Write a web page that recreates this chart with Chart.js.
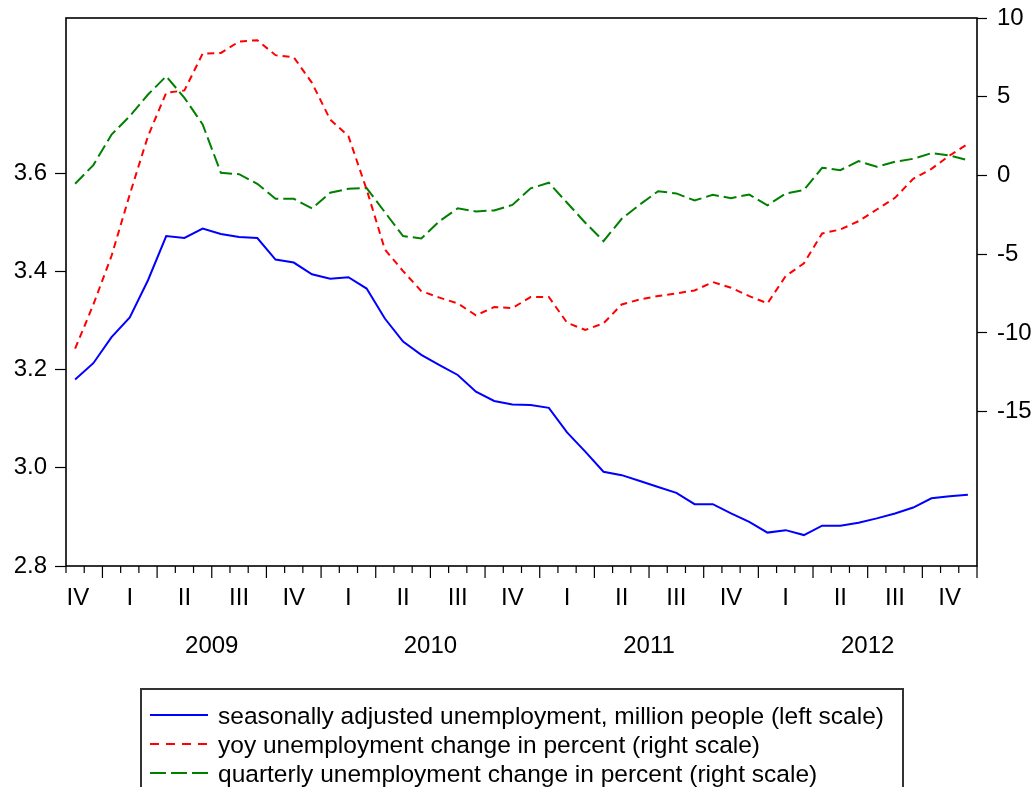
<!DOCTYPE html>
<html>
<head>
<meta charset="utf-8">
<title>Unemployment</title>
<script src="https://cdn.jsdelivr.net/npm/chart.js@4.4.0/dist/chart.umd.min.js"></script>
<style>
  html, body { margin: 0; padding: 0; background: #fff; overflow: hidden; }
  #wrap { position: relative; width: 1036px; height: 787px; }
  #legend {
    position: absolute; left: 140px; top: 688px; width: 764px; height: 140px;
    border: 2px solid #333; box-sizing: border-box;
    font-family: 'Liberation Sans', Arial, sans-serif; font-size: 24.5px; color: #000;
  }
  .row { position: absolute; left: 8px; height: 29px; line-height: 29px; white-space: nowrap; display: flex; align-items: center; }
  .row svg { margin-right: 10px; }
</style>
</head>
<body>
<div id="wrap">
  <canvas id="chart" width="1036" height="787"></canvas>
  <div id="legend"></div>
</div>
<script>
// monthly observations, Nov 2008 - Dec 2012
const months = [
    'Nov 2008', 'Dec 2008',
    'Jan 2009', 'Feb 2009', 'Mar 2009', 'Apr 2009', 'May 2009', 'Jun 2009',
    'Jul 2009', 'Aug 2009', 'Sep 2009', 'Oct 2009', 'Nov 2009', 'Dec 2009',
    'Jan 2010', 'Feb 2010', 'Mar 2010', 'Apr 2010', 'May 2010', 'Jun 2010',
    'Jul 2010', 'Aug 2010', 'Sep 2010', 'Oct 2010', 'Nov 2010', 'Dec 2010',
    'Jan 2011', 'Feb 2011', 'Mar 2011', 'Apr 2011', 'May 2011', 'Jun 2011',
    'Jul 2011', 'Aug 2011', 'Sep 2011', 'Oct 2011', 'Nov 2011', 'Dec 2011',
    'Jan 2012', 'Feb 2012', 'Mar 2012', 'Apr 2012', 'May 2012', 'Jun 2012',
    'Jul 2012', 'Aug 2012', 'Sep 2012', 'Oct 2012', 'Nov 2012', 'Dec 2012'
];

// seasonally adjusted unemployment, million people (left scale)
const unemployment = [
    3.180, 3.213, 3.266, 3.306, 3.382, 3.472, 3.468, 3.487, 3.476, 3.470,
    3.468, 3.424, 3.418, 3.394, 3.385, 3.388, 3.365, 3.304, 3.257, 3.230,
    3.209, 3.189, 3.155, 3.136, 3.129, 3.128, 3.122, 3.072, 3.033, 2.992,
    2.985, 2.973, 2.961, 2.949, 2.926, 2.926, 2.907, 2.890, 2.868, 2.873,
    2.863, 2.882, 2.882, 2.888, 2.897, 2.907, 2.919, 2.938, 2.942, 2.945
];

// yoy change in percent (right scale)
const yoyChange = [
    -11.0, -8.2, -5.1, -1.2, 2.5, 5.25, 5.4, 7.74, 7.78, 8.5,
    8.59, 7.64, 7.51, 5.88, 3.55, 2.5, -0.89, -4.7, -6.07, -7.34,
    -7.76, -8.12, -8.88, -8.36, -8.42, -7.72, -7.72, -9.35, -9.81, -9.39,
    -8.19, -7.87, -7.66, -7.49, -7.3, -6.77, -7.13, -7.66, -8.12, -6.39,
    -5.58, -3.68, -3.43, -2.9, -2.16, -1.42, -0.21, 0.42, 1.27, 2.01
];

// quarterly change in percent (right scale)
const qoqChange = [
    -0.53, 0.66, 2.6, 3.77, 5.14, 6.3, 4.93, 3.24, 0.17, 0.08,
    -0.53, -1.48, -1.48, -2.09, -1.1, -0.85, -0.8, -2.33, -3.85, -4.0,
    -2.9, -2.09, -2.28, -2.22, -1.87, -0.82, -0.46, -1.73, -3.0, -4.17,
    -2.75, -1.84, -1.0, -1.14, -1.59, -1.23, -1.44, -1.21, -1.9, -1.14,
    -0.93, 0.49, 0.34, 0.91, 0.55, 0.87, 1.06, 1.42, 1.27, 0.97
];

const quarterLabels = ['IV', 'I', 'II', 'III', 'IV', 'I', 'II', 'III', 'IV',
    'I', 'II', 'III', 'IV', 'I', 'II', 'III', 'IV'];
const yearLabels = ['2009', '2010', '2011', '2012'];
const leftTicks = [2.8, 3.0, 3.2, 3.4, 3.6];
const rightTicks = [-15, -10, -5, 0, 5, 10];

const font = { family: "'Liberation Sans', Arial, sans-serif", size: 24 };

// quarter label sits in the middle of its quarter, first one is a partial quarter
const quarterPos = quarterLabels.map((q, k) => k === 0 ? 0.65 : 2 + 3 * (k - 1) + 1.5);
const yearPos = yearLabels.map((y, k) => 2 + 12 * k + 6);

// no extra room for labels hanging over the plot edges
const noPad = s => { s.paddingTop = 0; s.paddingBottom = 0; s.paddingLeft = 0; s.paddingRight = 0; };

// box round the plot and the month / quarter tick marks under it
const frameTicks = {
    id: 'frameTicks',
    afterDatasetsDraw(chart) {
        const { ctx, chartArea: a } = chart;
        const q = chart.scales.quarter;
        ctx.save();
        ctx.strokeStyle = '#000';
        ctx.lineWidth = 1.6;
        ctx.strokeRect(a.left, a.top, a.right - a.left, a.bottom - a.top);
        ctx.lineWidth = 1.2;
        ctx.beginPath();
        for (let m = 0; m <= months.length; m++) {
            const x = q.getPixelForValue(m);
            const len = (m + 1) % 3 === 0 ? 12 : 7;
            ctx.moveTo(x, a.bottom);
            ctx.lineTo(x, a.bottom + len);
        }
        ctx.stroke();
        ctx.restore();
    }
};

const chart = new Chart(document.getElementById('chart'), {
    type: 'line',
    data: {
        labels: months,
        datasets: [
            {
                label: 'seasonally adjusted unemployment, million people (left scale)',
                data: unemployment,
                yAxisID: 'y',
                borderColor: '#0000ff',
                borderWidth: 2
            },
            {
                label: 'yoy unemployment change in percent (right scale)',
                data: yoyChange,
                yAxisID: 'y1',
                borderColor: '#ff0000',
                borderWidth: 2,
                borderDash: [7, 5]
            },
            {
                label: 'quarterly unemployment change in percent (right scale)',
                data: qoqChange,
                yAxisID: 'y1',
                borderColor: '#008000',
                borderWidth: 2,
                borderDash: [13, 5]
            }
        ]
    },
    options: {
        responsive: false,
        animation: false,
        devicePixelRatio: 1,
        layout: { padding: { top: 18, bottom: 121 } },
        elements: { point: { radius: 0 }, line: { tension: 0 } },
        plugins: { legend: { display: false }, tooltip: { enabled: false } },
        scales: {
            x: { type: 'category', display: false, offset: true },
            quarter: {
                type: 'linear', position: 'bottom', min: 0, max: months.length, weight: 1,
                grid: { display: false, drawTicks: false },
                border: { display: false },
                afterBuildTicks: s => { s.ticks = quarterPos.map(v => ({ value: v })); },
                afterFit: s => { s.height = 50; noPad(s); },
                ticks: {
                    autoSkip: false, maxRotation: 0, padding: 18, color: '#000', font,
                    callback: (v, i) => quarterLabels[i]
                }
            },
            year: {
                type: 'linear', position: 'bottom', min: 0, max: months.length, weight: 2,
                grid: { display: false, drawTicks: false },
                border: { display: false },
                afterBuildTicks: s => { s.ticks = yearPos.map(v => ({ value: v })); },
                afterFit: s => { s.height = 50; noPad(s); },
                ticks: {
                    autoSkip: false, maxRotation: 0, padding: 16, color: '#000', font,
                    callback: (v, i) => yearLabels[i]
                }
            },
            y: {
                position: 'left', min: 2.8, max: 3.916,
                grid: { drawOnChartArea: false, tickLength: 11, tickColor: '#000', tickWidth: 1.2 },
                border: { display: false },
                afterBuildTicks: s => { s.ticks = leftTicks.map(v => ({ value: v })); },
                afterFit: s => { s.width = 66; noPad(s); },
                ticks: { padding: 8, color: '#000', font, callback: v => v.toFixed(1) }
            },
            y1: {
                position: 'right', min: -24.8, max: 10,
                grid: { drawOnChartArea: false, tickLength: 10, tickColor: '#000', tickWidth: 1.2 },
                border: { display: false },
                afterBuildTicks: s => { s.ticks = rightTicks.map(v => ({ value: v })); },
                afterFit: s => { s.width = 59; noPad(s); },
                ticks: { padding: 10, color: '#000', font, callback: v => String(v) }
            }
        }
    },
    plugins: [frameTicks]
});

// legend box below the plot, built from the datasets
const legendDash = [[], [9, 7], [16, 5]];
const legendEl = document.getElementById('legend');
chart.data.datasets.forEach((ds, i) => {
    const row = document.createElement('div');
    row.className = 'row';
    row.style.top = (10.5 + 29 * i) + 'px';
    const ns = 'http://www.w3.org/2000/svg';
    const svg = document.createElementNS(ns, 'svg');
    svg.setAttribute('width', '58');
    svg.setAttribute('height', '8');
    const line = document.createElementNS(ns, 'line');
    line.setAttribute('x1', '0'); line.setAttribute('y1', '4');
    line.setAttribute('x2', '58'); line.setAttribute('y2', '4');
    line.setAttribute('stroke', ds.borderColor);
    line.setAttribute('stroke-width', '2');
    if (legendDash[i].length) line.setAttribute('stroke-dasharray', legendDash[i].join(' '));
    svg.appendChild(line);
    const span = document.createElement('span');
    span.textContent = ds.label;
    row.appendChild(svg);
    row.appendChild(span);
    legendEl.appendChild(row);
});
</script>
</body>
</html>
